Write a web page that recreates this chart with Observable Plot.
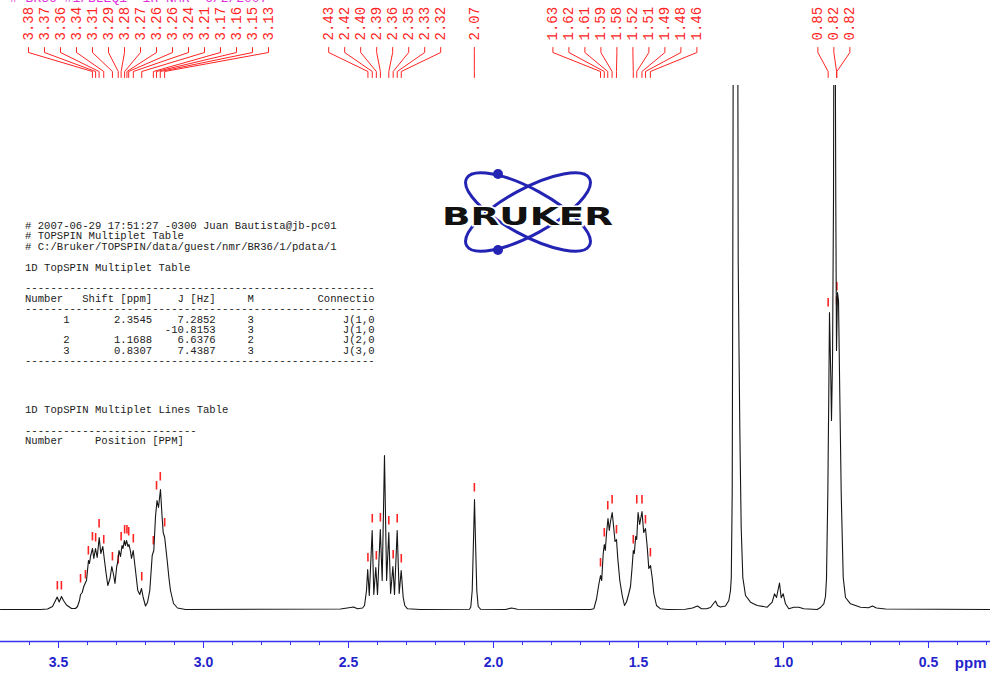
<!DOCTYPE html>
<html><head><meta charset="utf-8">
<script src="https://cdn.jsdelivr.net/npm/d3@7"></script>
<script src="https://cdn.jsdelivr.net/npm/@observablehq/plot@0.6"></script>
<style>
body{margin:0;background:#fff;}
#wrap{position:relative;width:990px;height:673px;overflow:hidden;background:#fff;}
#chart{position:absolute;left:0;top:0;}
pre.tbl{margin:0;position:absolute;left:25px;font-family:"Liberation Mono",monospace;font-size:10.6px;line-height:10.4px;color:#222;}
#hdr{position:absolute;left:10px;top:-8px;font-family:"Liberation Mono",monospace;font-size:13px;line-height:13px;color:#e030e0;white-space:pre;}
#logo{position:absolute;left:430px;top:160px;}
</style></head><body>
<div id="wrap">
<div id="chart"></div>
<div id="hdr"># BR36 #1/BLEQ1  1H NMR  6/2/2007</div>
<pre class="tbl" id="t1" style="top:221px"></pre>
<pre class="tbl" id="t2" style="top:405px"></pre>
<svg id="logo" width="200" height="110">
 <g transform="translate(98,52)" fill="none" stroke="#2424b4" stroke-width="3">
  <ellipse rx="70" ry="23" transform="rotate(28.7)"/>
  <ellipse rx="70" ry="23" transform="rotate(-28.7)"/>
 </g>
 <circle cx="68" cy="14" r="5" fill="#2424b4"/>
 <circle cx="68" cy="90" r="5" fill="#2424b4"/>
 <text x="12" y="65" font-family="DejaVu Sans" font-weight="bold" font-size="25" textLength="171" lengthAdjust="spacingAndGlyphs" fill="#111" stroke="#fff" stroke-width="3" paint-order="stroke">BRUKER</text>
</svg>
</div>
<script>
// ---------- spectrum trace (ppm, intensity) ----------
const specPpm = [
3.7000,3.5621,3.5379,3.5207,3.5103,3.5045,3.4976,3.4897,3.4828,3.4724,3.4552,3.4414,3.4345,3.4276,3.4241,3.4183,3.4128,3.4069,3.4034,3.4000,
3.3966,3.3931,3.3897,3.3828,3.3783,3.3724,3.3666,3.3597,3.3541,3.3472,3.3414,3.3362,3.3300,3.3224,3.3162,3.3103,3.3052,3.2993,3.2959,3.2914,
3.2862,3.2810,3.2776,3.2731,3.2697,3.2655,3.2603,3.2569,3.2517,3.2483,3.2424,3.2345,3.2266,3.2197,3.2138,3.2079,3.2000,3.1931,3.1852,3.1769,
3.1714,3.1655,3.1603,3.1552,3.1483,3.1431,3.1390,3.1338,3.1252,3.1190,3.1138,3.1034,3.0897,3.0621,
2.5276,2.4931,2.4828,2.4690,2.4517,2.4448,2.4379,2.4338,2.4283,2.4183,2.4128,2.4059,2.4000,2.3903,2.3838,2.3759,2.3686,2.3610,2.3548,2.3469,
2.3414,2.3321,2.3252,2.3183,2.3114,2.3059,2.2966,2.2517,
2.0828,2.0783,2.0734,2.0690,2.0655,2.0621,2.0576,2.0528,2.0448,1.9586,1.9379,1.9172,
1.6655,1.6541,1.6448,1.6369,1.6310,1.6269,1.6217,1.6179,1.6145,1.6103,1.6052,1.6007,1.5966,1.5907,1.5852,1.5810,1.5759,1.5714,1.5645,1.5562,
1.5483,1.5414,1.5334,1.5276,1.5224,1.5179,1.5145,1.5097,1.5062,1.5014,1.4959,1.4879,1.4821,1.4759,1.4700,1.4645,1.4586,1.4528,1.4472,1.4379,
1.4241,1.4000,
1.3379,1.3138,1.2966,1.2828,1.2655,1.2517,1.2414,1.2345,1.2276,1.2172,1.2000,1.1886,1.1828,1.1800,1.1769,1.1748,1.1724,1.1655,1.1586,1.1562,
1.1534,1.1507,1.1459,1.1403,1.1310,1.1138,1.0907,1.0562,1.0390,1.0310,1.0241,1.0138,1.0079,1.0010,0.9931,0.9817,0.9645,0.9472,0.9300,0.8838,
0.8724,0.8610,0.8552,0.8517,0.8472,0.8438,0.8414,0.8369,0.8345,0.8310,0.8276,0.8255,0.8228,0.8197,0.8172,0.8138,0.8103,0.8059,0.8010,0.7941,
0.7862,0.7690,0.7345,0.7069,0.6931,0.6793,0.6483,0.2862
];
const specInt = [
0,0,0.5,3,9,12.5,7.5,13,9,4.5,1,1,3,9,15,17,23,27,29,39,
49,46,53,61,51,61,52,72,56,63,49,37,24,31,43,35,26,43,47,59,
53,64,61,69,64,69,63,65,58,51,59,39,19,15,21,12,3.5,7,19,54,
59,93,109,102,120,94,77,72,49,31,19,6,1.5,0,
0.5,2,2.5,0.7,1.5,4,19,40,14,79,15,42,15,80,29,154,29,77,16,43,
15,79,16,39,12,4,0.7,0,
0.3,2.5,19,69,110,69,19,3,0.3,0,1.5,0.2,
0,0.7,10.5,25,34,29,56,65,59,76,91,79,88,97,81,68,70,51,29,14,
4,7.5,16,23,41,59,56,73,70,97,85,98,77,81,63,41,44,32,16,4,
0.7,0,
0.2,1.5,3.5,0.7,0.7,2,6,8.5,4,2.5,3.5,9,19,32,116,349,729,649,729,349,
259,182,82,32,14,7.3,4,2.3,7.3,15.7,12,26.5,11.7,15.7,5.7,0.7,2.3,2.3,0.7,0,
2,5.7,13,31,116,216,297,232,189,249,409,689,689,409,259,317,309,216,116,32,
12,5.7,2.3,1.8,3.5,1.5,0.5,0
];
// ---------- picked peaks (red markers) ----------
const peakPpm = [3.504,3.490,3.424,3.407,3.397,3.383,3.372,3.360,3.344,3.314,3.294,3.284,3.272,3.264,3.258,3.242,3.213,3.173,3.162,3.149,3.134,
 2.433,2.418,2.404,2.390,2.361,2.346,2.332,2.318,2.066,
 1.631,1.618,1.606,1.591,1.576,1.518,1.506,1.488,1.476,1.459,
 0.846,0.817,0.816];
const peakHeight = [12,12,19,23,47,61,60,74,58,41,38,61,68,68,66,59,21,57,112,121,75,
 40,79,42,80,77,43,79,39,110,
 35,65,92,98,68,58,98,98,78,45,
 295,297,311];
// ---------- labelled peak groups (top annotation) ----------
const labelGroup1 = [3.383,3.372,3.360,3.344,3.314,3.294,3.284,3.272,3.264,3.258,3.242,3.213,3.173,3.162,3.149,3.134];
const labelGroup2 = [2.433,2.418,2.404,2.390,2.361,2.346,2.332,2.318];
const labelGroup3 = [2.066];
const labelGroup4 = [1.631,1.618,1.606,1.591,1.576,1.518,1.506,1.488,1.476,1.459];
const labelGroup5 = [0.846,0.817,0.816];
// ---------- axis ticks ----------
const majorTicks = [3.5,3.0,2.5,2.0,1.5,1.0,0.5];
const minorTicks = [3.6,3.5,3.4,3.3,3.2,3.1,3.0,2.9,2.8,2.7,2.6,2.5,2.4,2.3,2.2,2.1,2.0,1.9,1.8,1.7,1.6,1.5,1.4,1.3,1.2,1.1,1.0,0.9,0.8,0.7,0.6,0.5,0.4,0.3];
const axisUnit = "ppm";
// ---------- text tables ----------
const headerLines = ["# 2007-06-29 17:51:27 -0300 Juan Bautista@jb-pc01","# TOPSPIN Multiplet Table","# C:/Bruker/TOPSPIN/data/guest/nmr/BR36/1/pdata/1","","1D TopSPIN Multiplet Table",""];
const multNumber = ["1","","2","3"];
const multShift = ["2.3545","","1.1688","0.8307"];
const multJ = ["7.2852","-10.8153","6.6376","7.4387"];
const multM = ["3","3","2","3"];
const multConn = ["J(1,0","J(1,0","J(2,0","J(3,0"];
const linesTitle = "1D TopSPIN Multiplet Lines Table";

// ---------- layout ----------
const W = 990, H = 673, MT = 85, MB = 32;
const xDomain = [3.7, 0.2862], yDomain = [-32, 524];
const blue = "#3434f0", red = "#ff2424";
const xs = Plot.scale({x: {domain: xDomain, range: [0, W]}});
const ys = Plot.scale({y: {domain: yDomain, range: [H - MB, MT]}});

const spec = specPpm.map((p, i) => ({ppm: p, v: specInt[i]}));
const peaks = peakPpm.map((p, i) => ({ppm: p, h: peakHeight[i]}));

const LABEL_STEP = 16, LABEL_MIN_X = 28;
const labelRows = [], connRows = [];
[labelGroup1, labelGroup2, labelGroup3, labelGroup4, labelGroup5].forEach((g, gi) => {
  const center = d3.mean(g, p => xs.apply(p));
  const start = Math.max(LABEL_MIN_X, center - (g.length - 1) * LABEL_STEP / 2);
  g.forEach((p, i) => {
    const lx = xs.invert(start + i * LABEL_STEP);
    labelRows.push({ppm: lx, v: ys.invert(40), text: p.toFixed(2)});
    const id = gi + "-" + i;
    [[lx, 47], [lx, 52], [p, 71], [p, 77]].forEach(([x, py]) => connRows.push({id, ppm: x, v: ys.invert(py)}));
  });
});

const chart = Plot.plot({
  width: W, height: H, marginTop: MT, marginBottom: MB, marginLeft: 0, marginRight: 0,
  x: {domain: xDomain, axis: null},
  y: {domain: yDomain, axis: null},
  marks: [
    Plot.ruleY([-32], {stroke: blue, strokeWidth: 1.5}),
    Plot.ruleX(minorTicks, {x: d => d, y1: -32, y2: -36, stroke: blue, strokeWidth: 1}),
    Plot.ruleX(majorTicks, {x: d => d, y1: -32, y2: -39, stroke: blue, strokeWidth: 1}),
    Plot.text(majorTicks, {x: d => d, y: d => -53, text: d => d.toFixed(1), fill: "#2424cc", fontWeight: "bold", fontSize: 14, fontFamily: "Liberation Sans, Arial, sans-serif"}),
    Plot.text([axisUnit], {x: d => xDomain[1], y: d => -54, text: d => d, textAnchor: "end", dx: -4, fill: "#2424cc", fontWeight: "bold", fontSize: 15, fontFamily: "Liberation Sans, Arial, sans-serif"}),
    Plot.ruleX(peaks, {x: "ppm", y1: d => d.h + 7.5, y2: d => d.h + 16, stroke: red, strokeWidth: 1.6}),
    Plot.line(spec, {x: "ppm", y: "v", stroke: "#161616", strokeWidth: 1.1, clip: true}),
    Plot.line(connRows, {x: "ppm", y: "v", z: "id", stroke: red, strokeWidth: 1}),
    Plot.text(labelRows, {x: "ppm", y: "v", text: "text", rotate: -90, textAnchor: "start", fill: red, fontSize: 14, fontFamily: "Liberation Mono, monospace", ariaLabel: "peak-label"})
  ]
});
document.getElementById("chart").appendChild(chart);
chart.querySelectorAll('g[aria-label="peak-label"] text').forEach(t => t.style.letterSpacing = "1.3px");

// text tables
const dash55 = "-".repeat(55);
const rows = multJ.map((j, i) => multNumber[i].padStart(7) + multShift[i].padStart(13) + j.padStart(10) + multM[i].padStart(6) + multConn[i].padStart(19));
const t1 = headerLines.concat([dash55, "Number".padEnd(9) + "Shift [ppm]" + "J [Hz]".padStart(10) + "M".padStart(6) + "Connectio".padStart(19), dash55], rows, [dash55]);
document.getElementById("t1").textContent = t1.join("\n");
document.getElementById("t2").textContent = [linesTitle, "", "-".repeat(27), "Number".padEnd(11) + "Position [PPM]"].join("\n");
</script>
</body></html>
